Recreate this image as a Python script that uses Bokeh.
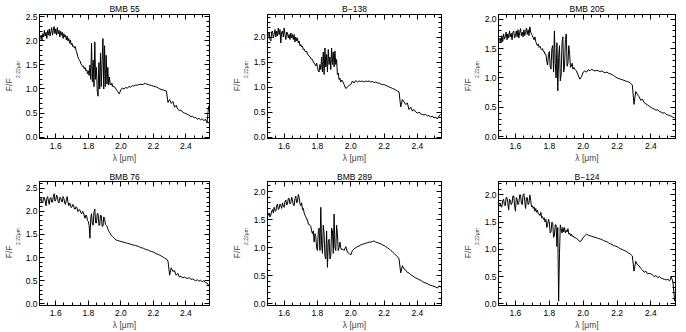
from bokeh.plotting import figure
from bokeh.layouts import gridplot
from bokeh.models import (LinearAxis, SingleIntervalTicker, FixedTicker, Range1d,
                          PrintfTickFormatter, CustomJSTickFormatter)
from bokeh.embed import file_html
from bokeh.resources import INLINE

# wavelength grid (micron): finer sampling over the noisy 1.5-1.95 part
wavelength = [
    1.500, 1.505, 1.510, 1.515, 1.520, 1.525, 1.530, 1.535, 1.540, 1.545,
    1.550, 1.555, 1.560, 1.565, 1.570, 1.575, 1.580, 1.585, 1.590, 1.595,
    1.600, 1.605, 1.610, 1.615, 1.620, 1.625, 1.630, 1.635, 1.640, 1.645,
    1.650, 1.655, 1.660, 1.665, 1.670, 1.675, 1.680, 1.685, 1.690, 1.695,
    1.700, 1.705, 1.710, 1.715, 1.720, 1.725, 1.730, 1.735, 1.740, 1.745,
    1.750, 1.755, 1.760, 1.765, 1.770, 1.775, 1.780, 1.785, 1.790, 1.795,
    1.800, 1.805, 1.810, 1.815, 1.820, 1.825, 1.830, 1.835, 1.840, 1.845,
    1.850, 1.855, 1.860, 1.865, 1.870, 1.875, 1.880, 1.885, 1.890, 1.895,
    1.900, 1.905, 1.910, 1.915, 1.920, 1.925, 1.930, 1.935, 1.940, 1.945,
    1.950, 1.96, 1.97, 1.98, 1.99,
    2.00, 2.01, 2.02, 2.03, 2.04, 2.05, 2.06, 2.07, 2.08, 2.09,
    2.10, 2.11, 2.12, 2.13, 2.14, 2.15, 2.16, 2.17, 2.18, 2.19,
    2.20, 2.21, 2.22, 2.23, 2.24, 2.25, 2.26, 2.27, 2.28, 2.29,
    2.30, 2.31, 2.32, 2.33, 2.34, 2.35, 2.36, 2.37, 2.38, 2.39,
    2.40, 2.41, 2.42, 2.43, 2.44, 2.45, 2.46, 2.47, 2.48, 2.49,
    2.50, 2.51, 2.52, 2.53, 2.54,
]

bmb55 = [
    2.00, 2.08, 2.12, 2.02, 2.15, 2.08, 2.22, 2.10, 2.18, 2.05,
    2.22, 2.12, 2.25, 2.10, 2.20, 2.28, 2.12, 2.22, 2.30, 2.15,
    2.25, 2.12, 2.28, 2.15, 2.22, 2.08, 2.20, 2.12, 2.18, 2.05,
    2.15, 2.08, 2.12, 2.02, 2.10, 2.00, 2.05, 1.95, 2.02, 1.92,
    1.95, 1.88, 1.90, 1.85, 1.88, 1.80, 1.75, 1.68, 1.63, 1.60,
    1.58, 1.52, 1.50, 1.47, 1.48, 1.42, 1.45, 1.38, 1.40, 1.32,
    1.38, 1.28, 1.50, 1.20, 1.95, 1.15, 1.60, 1.05, 1.98, 1.20,
    1.45, 0.95, 0.85, 1.55, 1.00, 1.75, 1.05, 1.60, 2.05, 1.00,
    1.90, 1.05, 1.70, 1.10, 1.45, 1.08, 1.25, 1.10, 1.08, 1.12,
    1.05, 1.05, 1.00, 0.95, 0.90,
    0.98, 1.02, 1.00, 1.03, 1.02, 1.05, 1.04, 1.07, 1.06, 1.08,
    1.08, 1.09, 1.10, 1.09, 1.10, 1.12, 1.10, 1.09, 1.08, 1.07,
    1.06, 1.05, 1.04, 1.02, 1.00, 0.99, 0.98, 0.97, 0.96, 0.72,
    0.78, 0.70, 0.74, 0.62, 0.66, 0.58, 0.55, 0.56, 0.52, 0.50,
    0.49, 0.47, 0.46, 0.42, 0.44, 0.40, 0.41, 0.37, 0.39, 0.36,
    0.38, 0.34, 0.37, 0.30, 0.65,
]

b138 = [
    1.95, 2.05, 2.08, 1.95, 1.92, 2.10, 2.12, 1.98, 2.05, 2.15,
    2.00, 2.12, 2.02, 2.18, 2.05, 2.15, 1.88, 2.10, 2.12, 2.00,
    2.18, 2.05, 1.95, 2.10, 2.08, 1.98, 2.05, 1.95, 2.08, 1.98,
    2.05, 1.95, 2.05, 1.90, 2.00, 1.92, 1.98, 1.88, 1.92, 1.82,
    1.85, 1.80, 1.82, 1.75, 1.76, 1.72, 1.70, 1.72, 1.66, 1.64,
    1.62, 1.60, 1.58, 1.55, 1.55, 1.50, 1.48, 1.45, 1.42, 1.48,
    1.40, 1.32, 1.30, 1.45, 1.35, 1.60, 1.30, 1.70, 1.25, 1.78,
    1.40, 1.65, 1.30, 1.75, 1.45, 1.60, 1.35, 1.78, 1.45, 1.70,
    1.40, 1.72, 1.45, 1.55, 1.25, 1.28, 1.15, 1.18, 1.10, 1.14,
    1.12, 1.05, 0.97, 1.00, 1.03,
    1.05, 1.12, 1.08, 1.13, 1.10, 1.12, 1.11, 1.12, 1.10, 1.12,
    1.11, 1.12, 1.10, 1.11, 1.09, 1.10, 1.08, 1.08, 1.06, 1.05,
    1.05, 1.03, 1.02, 1.00, 0.99, 0.97, 0.96, 0.94, 0.92, 0.90,
    0.60, 0.75, 0.70, 0.65, 0.68, 0.55, 0.60, 0.52, 0.55, 0.50,
    0.48, 0.50, 0.46, 0.45, 0.44, 0.45, 0.42, 0.43, 0.40, 0.42,
    0.38, 0.40, 0.36, 0.42, 0.45,
]

bmb205 = [
    1.58, 1.65, 1.68, 1.60, 1.72, 1.62, 1.75, 1.66, 1.70, 1.78,
    1.65, 1.75, 1.68, 1.80, 1.70, 1.76, 1.65, 1.78, 1.80, 1.68,
    1.72, 1.80, 1.70, 1.82, 1.68, 1.78, 1.84, 1.72, 1.78, 1.70,
    1.82, 1.72, 1.78, 1.85, 1.74, 1.82, 1.72, 1.87, 1.78, 1.75,
    1.72, 1.68, 1.65, 1.70, 1.62, 1.58, 1.55, 1.58, 1.52, 1.54,
    1.50, 1.48, 1.50, 1.45, 1.45, 1.40, 1.40, 1.28, 1.22, 1.40,
    1.45, 1.20, 1.15, 1.50, 1.55, 1.10, 1.80, 1.25, 1.00, 1.60,
    0.78, 1.35, 1.55, 0.95, 1.05, 1.60, 1.70, 1.10, 1.20, 1.65,
    1.75, 1.20, 1.25, 1.55, 1.40, 1.18, 1.20, 1.25, 1.15, 1.18,
    1.15, 1.12, 1.05, 0.98, 1.02,
    1.10, 1.12, 1.10, 1.14, 1.12, 1.15, 1.13, 1.12, 1.13, 1.12,
    1.11, 1.12, 1.10, 1.09, 1.10, 1.08, 1.07, 1.06, 1.04, 1.02,
    1.00, 0.99, 0.98, 0.97, 0.96, 0.95, 0.94, 0.93, 0.91, 0.88,
    0.55, 0.77, 0.72, 0.68, 0.62, 0.64, 0.58, 0.56, 0.54, 0.52,
    0.50, 0.48, 0.47, 0.45, 0.46, 0.43, 0.42, 0.40, 0.41, 0.38,
    0.37, 0.36, 0.35, 0.33, 0.32,
]

bmb76 = [
    2.20, 2.25, 2.28, 2.20, 2.18, 2.30, 2.30, 2.22, 2.12, 2.28,
    2.32, 2.22, 2.15, 2.28, 2.30, 2.20, 2.20, 2.32, 2.38, 2.22,
    2.25, 2.35, 2.32, 2.20, 2.18, 2.30, 2.30, 2.22, 2.20, 2.32,
    2.28, 2.18, 2.15, 2.25, 2.32, 2.20, 2.12, 2.18, 2.15, 2.08,
    2.10, 2.15, 2.12, 2.05, 2.05, 2.10, 2.08, 2.00, 2.00, 2.04,
    2.02, 1.96, 1.95, 2.00, 1.98, 1.90, 1.85, 1.92, 1.90, 1.80,
    1.78, 1.70, 1.42, 1.85, 1.95, 1.72, 1.70, 1.98, 2.05, 1.75,
    1.75, 1.95, 1.95, 1.70, 1.70, 1.92, 1.90, 1.68, 1.68, 1.88,
    1.85, 1.72, 1.70, 1.68, 1.62, 1.58, 1.55, 1.52, 1.48, 1.47,
    1.45, 1.42, 1.38, 1.37, 1.36,
    1.35, 1.34, 1.33, 1.32, 1.31, 1.30, 1.29, 1.28, 1.27, 1.26,
    1.25, 1.24, 1.22, 1.21, 1.20, 1.18, 1.17, 1.16, 1.14, 1.13,
    1.12, 1.10, 1.08, 1.07, 1.05, 1.03, 1.01, 0.99, 0.97, 0.92,
    0.62, 0.78, 0.70, 0.72, 0.62, 0.66, 0.58, 0.60, 0.56, 0.58,
    0.56, 0.55, 0.57, 0.53, 0.54, 0.52, 0.50, 0.52, 0.49, 0.51,
    0.48, 0.50, 0.46, 0.45, 0.40,
]

bmb289 = [
    1.55, 1.60, 1.62, 1.55, 1.58, 1.65, 1.68, 1.62, 1.72, 1.66,
    1.65, 1.75, 1.78, 1.68, 1.70, 1.78, 1.75, 1.70, 1.80, 1.74,
    1.72, 1.82, 1.85, 1.76, 1.78, 1.88, 1.88, 1.78, 1.80, 1.90,
    1.85, 1.76, 1.75, 1.88, 1.92, 1.80, 1.82, 1.95, 1.90, 1.78,
    1.75, 1.80, 1.68, 1.70, 1.62, 1.58, 1.55, 1.50, 1.50, 1.42,
    1.42, 1.40, 1.38, 1.30, 1.25, 1.30, 1.10, 1.25, 1.20, 1.00,
    0.95, 1.28, 1.35, 0.95, 1.72, 1.05, 0.90, 1.40, 1.25, 0.85,
    0.80, 1.30, 0.65, 1.10, 1.15, 0.80, 0.85, 1.35, 1.30, 0.90,
    1.60, 1.00, 0.95, 1.40, 1.25, 0.95, 1.00, 1.10, 1.00, 0.96,
    0.98, 0.95, 1.02, 0.92, 0.90,
    0.87, 0.95, 0.98, 1.00, 1.02, 1.03, 1.05, 1.06, 1.07, 1.08,
    1.09, 1.10, 1.10, 1.11, 1.12, 1.10, 1.09, 1.08, 1.07, 1.05,
    1.04, 1.02, 1.00, 0.98, 0.95, 0.93, 0.90, 0.87, 0.84, 0.80,
    0.55, 0.68, 0.62, 0.60, 0.56, 0.55, 0.52, 0.50, 0.48, 0.46,
    0.45, 0.43, 0.42, 0.40, 0.38, 0.37, 0.36, 0.34, 0.33, 0.32,
    0.31, 0.30, 0.28, 0.32, 0.30,
]

b124 = [
    1.80, 1.85, 1.85, 1.78, 1.78, 1.90, 1.92, 1.82, 1.80, 1.95,
    1.95, 1.85, 1.72, 1.92, 1.90, 1.82, 1.85, 1.98, 1.98, 1.80,
    1.70, 1.95, 1.92, 1.82, 1.85, 2.00, 2.00, 1.85, 1.82, 2.00,
    2.02, 1.88, 1.75, 1.95, 1.95, 1.82, 1.85, 2.00, 1.90, 1.78,
    1.80, 1.75, 1.78, 1.70, 1.75, 1.68, 1.72, 1.65, 1.65, 1.62,
    1.68, 1.58, 1.60, 1.55, 1.58, 1.50, 1.55, 1.40, 1.45, 1.55,
    1.50, 1.30, 1.32, 1.50, 1.48, 1.22, 1.25, 1.45, 1.45, 1.05,
    1.40, 0.05, 0.92, 1.45, 1.38, 1.30, 1.40, 1.32, 1.40, 1.30,
    1.35, 1.32, 1.38, 1.28, 1.30, 1.25, 1.28, 1.24, 1.25, 1.22,
    1.22, 1.20, 1.18, 1.14, 1.16,
    1.22, 1.25, 1.28, 1.26, 1.25, 1.24, 1.23, 1.22, 1.21, 1.20,
    1.19, 1.18, 1.16, 1.15, 1.14, 1.12, 1.10, 1.09, 1.07, 1.06,
    1.05, 1.03, 1.01, 1.00, 0.98, 0.97, 0.95, 0.93, 0.91, 0.88,
    0.60, 0.78, 0.72, 0.70, 0.65, 0.62, 0.58, 0.60, 0.55, 0.56,
    0.55, 0.53, 0.50, 0.52, 0.48, 0.50, 0.47, 0.46, 0.45, 0.44,
    0.45, 0.42, 0.50, 0.40, 0.05,
]

titles = ["BMB 55", "B\u2212138", "BMB 205", "BMB 76", "BMB 289", "B\u2212124"]
spectra = [bmb55, b138, bmb205, bmb76, bmb289, b124]
y_tops = [2.55, 2.45, 2.08, 2.645, 2.18, 2.245]
y_bottoms = [-0.03, -0.03, -0.03, -0.035, -0.03, -0.03]
x_start, x_end = 1.5, 2.545
y_label_main = "F/F"
y_label_sub = "2.22\u03bcm"
x_label = "\u03bb [\u03bcm]"

FONT = "Liberation Sans"
NBSP = "\u00a0"
col_specs = [(228, 32, 19), (228, 36, 15), (230, 42, 11)]   # width, left, right
row_specs = [(166, 14, 28, 2), (166, 15, 27, 0)]          # height, top, bottom, title standoff


def style_axis(ax, labels=True):
    ax.axis_line_color = "black"
    ax.major_tick_line_color = "black"
    ax.minor_tick_line_color = "black"
    ax.major_tick_in = 5
    ax.major_tick_out = 0
    ax.minor_tick_in = 3
    ax.minor_tick_out = 0
    if labels:
        ax.major_label_text_font = FONT
        ax.major_label_text_font_size = "8.5px"
        ax.major_label_text_color = "black"
    else:
        ax.formatter = CustomJSTickFormatter(code="return ''")
        ax.major_label_standoff = 0
        ax.major_label_text_font_size = "1px"


plots = []
for i in range(6):
    r, c = divmod(i, 3)
    w, bl, br = col_specs[c]
    h, bt, bb, tstand = row_specs[r]
    y0, y1 = y_bottoms[i], y_tops[i]
    p = figure(width=w, height=h, output_backend="svg", toolbar_location=None,
               x_range=Range1d(x_start, x_end), y_range=Range1d(y0, y1),
               min_border_left=bl, min_border_right=br,
               min_border_top=bt, min_border_bottom=bb,
               x_axis_type=None, y_axis_type=None)
    p.xgrid.visible = False
    p.ygrid.visible = False
    p.outline_line_color = "black"
    p.background_fill_color = "white"
    p.border_fill_color = "white"

    p.title.text = titles[i]
    p.title.align = "center"
    p.title.text_font = FONT
    p.title.text_font_size = "8.5px"
    p.title.text_font_style = "normal"
    p.title.text_color = "black"
    p.title.standoff = tstand
    p.title.offset = -3

    xt = SingleIntervalTicker(interval=0.2, num_minor_ticks=4)
    yt = SingleIntervalTicker(interval=0.5, num_minor_ticks=5)

    xb = LinearAxis(ticker=xt, formatter=PrintfTickFormatter(format="%.1f"),
                    axis_label=x_label)
    style_axis(xb)
    xb.major_label_standoff = 4
    xb.axis_label_standoff = 1
    xb.axis_label_text_font = FONT
    xb.axis_label_text_font_size = "8.5px"
    xb.axis_label_text_font_style = "normal"
    p.add_layout(xb, "below")

    # inner left axis: ticks, tick labels and the small subscript of the label
    yl = LinearAxis(ticker=yt, formatter=PrintfTickFormatter(format="%.1f"),
                    axis_label=NBSP * 10 + y_label_sub)
    style_axis(yl)
    yl.major_label_standoff = 2
    yl.axis_label_standoff = 2
    yl.axis_label_text_font = FONT
    yl.axis_label_text_font_size = "5px"
    yl.axis_label_text_font_style = "normal"
    p.add_layout(yl, "left")

    # outer left axis: carries only the main part of the label
    ym = LinearAxis(ticker=FixedTicker(ticks=[]), axis_label=y_label_main + NBSP * 7)
    ym.axis_line_color = None
    ym.major_tick_line_color = None
    ym.minor_tick_line_color = None
    ym.major_tick_in = 0
    ym.major_tick_out = 0
    ym.minor_tick_in = 0
    ym.minor_tick_out = 0
    ym.major_label_standoff = 0
    ym.major_label_text_font_size = "1px"
    ym.axis_label_standoff = -2
    ym.axis_label_text_font = FONT
    ym.axis_label_text_font_size = "8.5px"
    ym.axis_label_text_font_style = "normal"
    p.add_layout(ym, "left")

    xa = LinearAxis(ticker=xt)
    style_axis(xa, labels=False)
    p.add_layout(xa, "above")
    yr = LinearAxis(ticker=yt)
    style_axis(yr, labels=False)
    p.add_layout(yr, "right")

    p.line(wavelength, spectra[i], line_color="black", line_width=1)
    plots.append(p)

grid = gridplot([plots[0:3], plots[3:6]], toolbar_location=None)

open("out.html", "w").write(file_html(grid, INLINE))
